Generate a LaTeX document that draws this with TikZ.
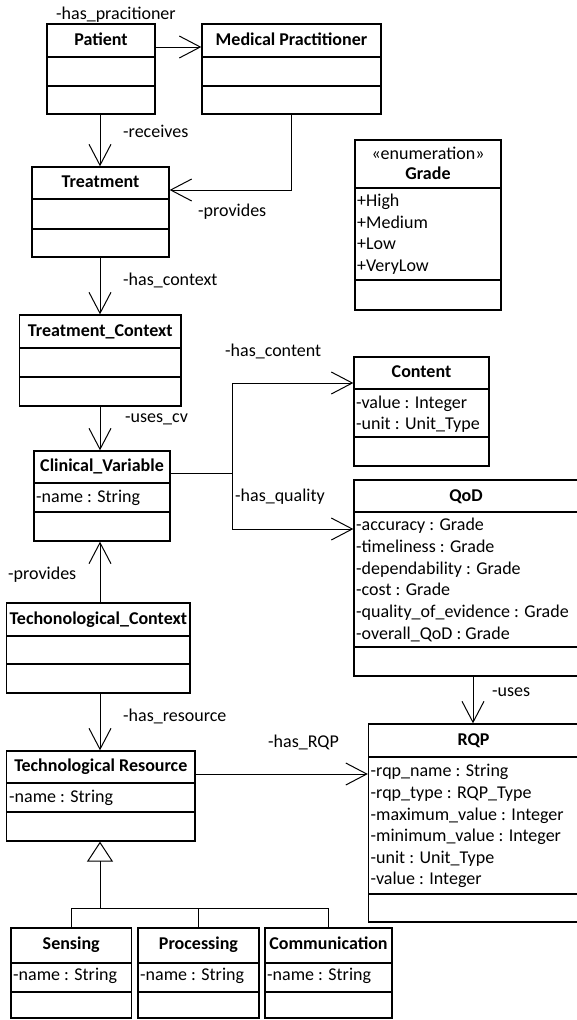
\documentclass[tikz,border=0pt]{standalone}
\usepackage{fontspec}
\setmainfont{Carlito}
\usetikzlibrary{arrows.meta,fit}
\tikzset{
  every node/.append style={font=\fontsize{18}{22}\selectfont},
  cls/.style={draw, line width=1.3pt, inner sep=0pt},
  divl/.style={line width=1.3pt},
  ttl/.style={font=\fontsize{18}{22}\selectfont\bfseries, inner sep=0pt, text height=13pt, text depth=4pt},
  stereo/.style={inner sep=0pt, text height=13pt, text depth=4pt},
  attr/.style={anchor=west, inner sep=0pt, text height=13pt, text depth=4pt},
  lbl/.style={anchor=west, inner sep=0pt, text height=13pt, text depth=4pt},
  assoc/.style={line width=1pt, -{Straight Barb[length=21pt,width=22pt,line width=1pt]}},
  genline/.style={line width=1pt},
  genarrow/.style={line width=1pt, -{Triangle[open,length=20pt,width=26pt,line width=1pt]}},
}
\newcommand{\umlclass}[7]{%
  \node[cls, fit={(#2,#3) (#4,#5)}] (#1) {};
  \draw[divl] (#2,#6) -- (#4,#6);
  \draw[divl] (#2,#7) -- (#4,#7);
}
\begin{document}
\begin{tikzpicture}[x=1pt,y=-1pt]
\useasboundingbox (0,0) rectangle (576,1020);
% helper coordinates
\coordinate (y47) at (0,47);
\coordinate (y190) at (0,190);
\coordinate (y383) at (0,383);
\coordinate (y529) at (0,529);
\coordinate (y774) at (0,774);
\coordinate (y908) at (0,908);
\coordinate (x100) at (100,0);
\coordinate (x473) at (473,0);
\coordinate (j1) at (232,473);

% classes
\umlclass{patient}{47}{24}{155}{114}{57}{86}
\node[ttl] (patient-t) at (101,40.5) {Patient};

\umlclass{mp}{202}{24}{381}{114}{57}{86}
\node[ttl] (mp-t) at (291.5,40.5) {Medical Practitioner};

\umlclass{treatment}{32}{167}{169}{257}{199}{229}
\node[ttl] (treatment-t) at (100.5,183) {Treatment};

\umlclass{grade}{355}{140}{501}{310}{188}{280}
\node[stereo] (grade-s) at (428,155) {«enumeration»};
\node[ttl] (grade-t) at (428,175) {Grade};
\node[attr] (grade-a1) at (357,202) {+High};
\node[attr] (grade-a2) at (357,223.5) {+Medium};
\node[attr] (grade-a3) at (357,245) {+Low};
\node[attr] (grade-a4) at (357,267) {+VeryLow};

\umlclass{tc}{19.5}{315}{181}{406}{348}{377}
\node[ttl] (tc-t) at (100.25,332) {Treatment\_Context};

\umlclass{cv}{34}{451}{170}{541}{483}{512}
\node[ttl] (cv-t) at (102,467) {Clinical\_Variable};
\node[attr] (cv-a1) at (36,497.5) {-name : String};

\umlclass{content}{354}{357}{489}{466}{389}{437}
\node[ttl] (content-t) at (421.5,373) {Content};
\node[attr] (content-a1) at (356,404) {-value : Integer};
\node[attr] (content-a2) at (356,425) {-unit : Unit\_Type};

\umlclass{qod}{354}{480}{586}{676}{512}{647}
\node[ttl] (qod-t) at (466,496.5) {QoD};
\node[attr] (qod-a1) at (356,526) {-accuracy : Grade};
\node[attr] (qod-a2) at (356,548) {-timeliness : Grade};
\node[attr] (qod-a3) at (356,569.5) {-dependability : Grade};
\node[attr] (qod-a4) at (356,591) {-cost : Grade};
\node[attr] (qod-a5) at (356,613) {-quality\_of\_evidence : Grade};
\node[attr] (qod-a6) at (356,635) {-overall\_QoD : Grade};

\umlclass{rqp}{368.5}{724}{586}{922}{757}{894}
\node[ttl] (rqp-t) at (473.5,741) {RQP};
\node[attr] (rqp-a1) at (370.5,771.5) {-rqp\_name : String};
\node[attr] (rqp-a2) at (370.5,793.5) {-rqp\_type : RQP\_Type};
\node[attr] (rqp-a3) at (370.5,815.5) {-maximum\_value : Integer};
\node[attr] (rqp-a4) at (370.5,837) {-minimum\_value : Integer};
\node[attr] (rqp-a5) at (370.5,858.5) {-unit : Unit\_Type};
\node[attr] (rqp-a6) at (370.5,880) {-value : Integer};

\umlclass{techctx}{6.6}{603}{190}{693}{636}{664}
\node[ttl] (techctx-t) at (98.3,620) {Techonological\_Context};

\umlclass{tr}{6.6}{751}{195}{841}{783}{812}
\node[ttl] (tr-t) at (100.8,767) {Technological Resource};
\node[attr] (tr-a1) at (9,797.5) {-name : String};

\umlclass{sensing}{11}{928}{131.5}{1018}{963}{992}
\node[ttl] (sensing-t) at (71.25,945) {Sensing};
\node[attr] (sensing-a1) at (13,976) {-name : String};

\umlclass{processing}{138}{928}{259}{1018}{963}{992}
\node[ttl] (processing-t) at (198.5,945) {Processing};
\node[attr] (processing-a1) at (140,976) {-name : String};

\umlclass{comm}{265}{928}{392}{1018}{963}{992}
\node[ttl] (comm-t) at (328.5,945) {Communication};
\node[attr] (comm-a1) at (267,976) {-name : String};

% connectors
\draw[assoc] (patient.east |- y47) -- (mp.west |- y47);
\draw[assoc] (x100 |- patient.south) -- (x100 |- treatment.north);
\draw[assoc] (mp.south) |- (treatment.east |- y190);
\draw[assoc] (x100 |- treatment.south) -- (x100 |- tc.north);
\draw[assoc] (x100 |- tc.south) -- (x100 |- cv.north);
\draw[line width=1pt] (cv.east |- j1) -- (j1);
\draw[assoc] (j1) |- (content.west |- y383);
\draw[assoc] (j1) |- (qod.west |- y529);
\draw[assoc] (x100 |- techctx.north) -- (x100 |- cv.south);
\draw[assoc] (x100 |- techctx.south) -- (x100 |- tr.north);
\draw[assoc] (tr.east |- y774) -- (rqp.west |- y774);
\draw[assoc] (x473 |- qod.south) -- (x473 |- rqp.north);
\draw[genarrow] (x100 |- y908) -- (x100 |- tr.south);
\draw[genline] (sensing.north) |- (comm.north |- y908) -- (comm.north);
\draw[genline] (processing.north) -- (processing.north |- y908);

% labels
\node[lbl] (l-haspract) at (56,15) {-has\_pracitioner};
\node[lbl] (l-receives) at (123,133) {-receives};
\node[lbl] (l-provides1) at (198,211.7) {-provides};
\node[lbl] (l-hascontext) at (123,281) {-has\_context};
\node[lbl] (l-hascontent) at (225,352) {-has\_content};
\node[lbl] (l-usescv) at (125,418) {-uses\_cv};
\node[lbl] (l-hasquality) at (235,497) {-has\_quality};
\node[lbl] (l-provides2) at (8,575) {-provides};
\node[lbl] (l-hasresource) at (123,717) {-has\_resource};
\node[lbl] (l-hasrqp) at (268,743) {-has\_RQP};
\node[lbl] (l-uses) at (492,692) {-uses};
\end{tikzpicture}
\end{document}
